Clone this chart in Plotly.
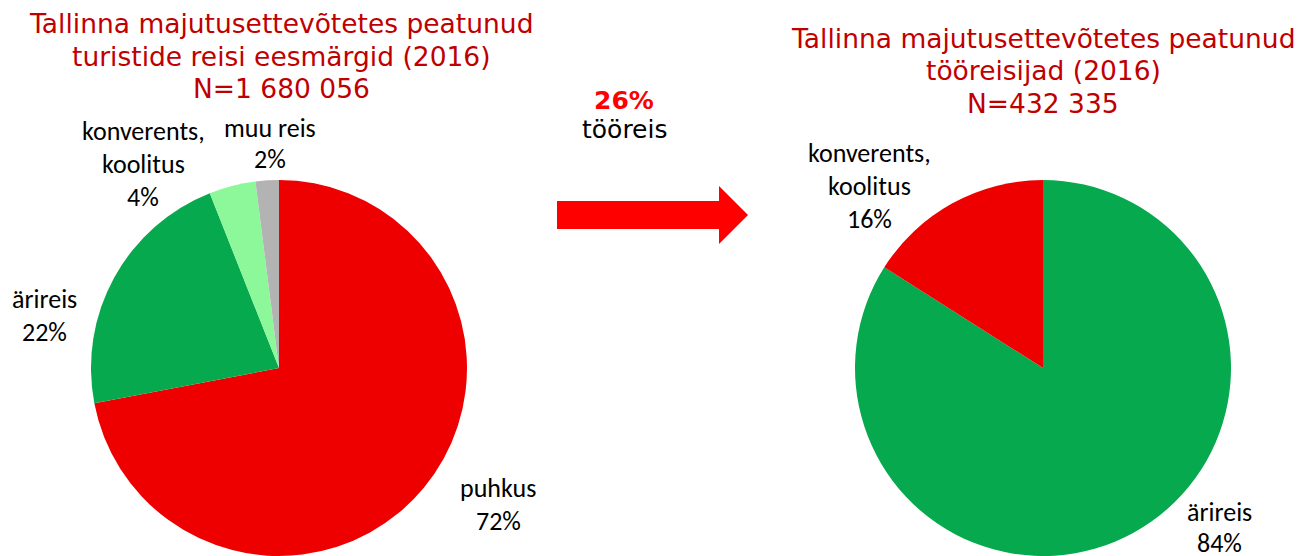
import plotly.graph_objects as go

W, H = 1312, 556
OFF = 8  # page body margin offset

left_labels = ["puhkus", "ärireis", "konverents, koolitus", "muu reis"]
left_values = [72, 22, 4, 2]
left_colors = ["#EE0000", "#06A94D", "#8CF89A", "#B3B3B3"]

right_labels = ["ärireis", "konverents, koolitus"]
right_values = [84, 16]
right_colors = ["#06A94D", "#EE0000"]

left_title = ["Tallinna majutusettevõtetes peatunud", "turistide reisi eesmärgid (2016)", "N=1 680 056"]
right_title = ["Tallinna majutusettevõtetes peatunud", "tööreisijad (2016)", "N=432 335"]
work_share = "26%"
work_label = "tööreis"

def px(x):
    return (x - OFF) / W

def py(y):
    return 1 - (y - OFF) / H

fig = go.Figure()
fig.add_trace(go.Pie(labels=left_labels, values=left_values, sort=False, direction="clockwise",
                     rotation=0, marker=dict(colors=left_colors, line=dict(width=0)),
                     textinfo="none", hoverinfo="label+percent",
                     domain=dict(x=[px(91), px(467)], y=[py(556), py(180)])))
fig.add_trace(go.Pie(labels=right_labels, values=right_values, sort=False, direction="clockwise",
                     rotation=0, marker=dict(colors=right_colors, line=dict(width=0)),
                     textinfo="none", hoverinfo="label+percent",
                     domain=dict(x=[px(855), px(1231)], y=[py(556), py(180)])))

ann = []
TFONT = dict(family="Verdana, DejaVu Sans", size=26.5, color="#C00000")
LFONT = dict(family="Carlito, Calibri, Lato", size=26, color="#000000")

def add(text, x, y, font):
    ann.append(dict(text=text, x=px(x), y=py(y), xref="paper", yref="paper",
                    showarrow=False, xanchor="center", yanchor="middle", font=font))

for i, t in enumerate(left_title):
    add(t, 281, 23 + 33 * i, TFONT)
for i, t in enumerate(right_title):
    add(t, 1043, 39 + 32 * i, TFONT)

add("<b>" + work_share + "</b>", 624, 101, dict(family="Verdana, DejaVu Sans", size=25, color="#FF0000"))
add(work_label, 624, 130, dict(family="Verdana, DejaVu Sans", size=25, color="#000000"))

def lab(lines, x, y0, step=33):
    for i, t in enumerate(lines):
        add(t, x, y0 + step * i, LFONT)

# left pie labels
lab([left_labels[0], f"{left_values[0]}%"], 498, 488)
lab([left_labels[1], f"{left_values[1]}%"], 44, 299)
lab(["konverents,", "koolitus", f"{left_values[2]}%"], 143, 131)
lab([left_labels[3], f"{left_values[3]}%"], 270, 128, step=31)
# right pie labels
lab(["konverents,", "koolitus", f"{right_values[1]}%"], 869, 153)
lab([right_labels[0], f"{right_values[0]}%"], 1219, 512, step=31)

# arrow
pts = [(557, 201), (719, 201), (719, 186), (748, 215), (719, 244), (719, 229), (557, 229)]
path = "M " + " L ".join(f"{px(x)},{py(y)}" for x, y in pts) + " Z"
fig.add_shape(type="path", path=path, xref="paper", yref="paper",
              fillcolor="#FF0000", line=dict(width=0))

fig.update_layout(width=W, height=H, margin=dict(l=0, r=0, t=0, b=0),
                  showlegend=False, paper_bgcolor="white", plot_bgcolor="white",
                  annotations=ann)
fig.write_html("out.html")
